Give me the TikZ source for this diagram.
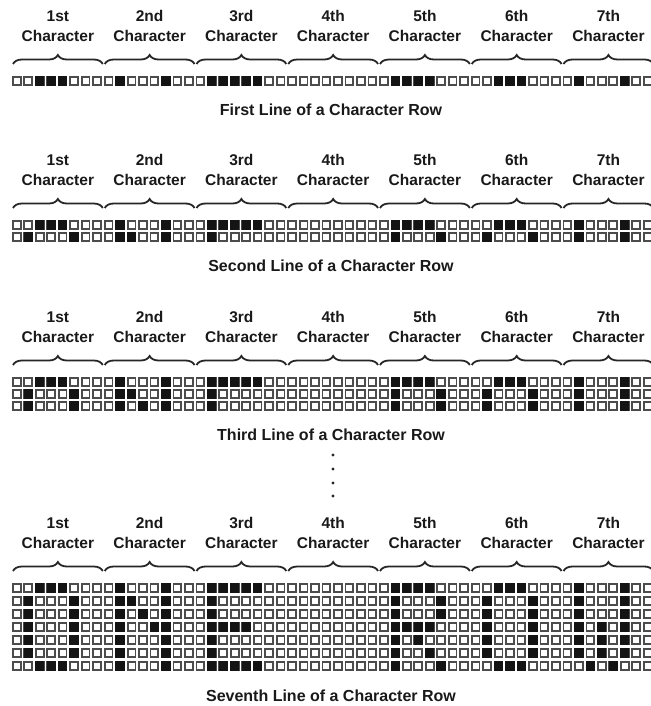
\documentclass[tikz,border=0pt]{standalone}
\usepackage{fontspec}
\setmainfont{Liberation Sans}
\usetikzlibrary{decorations.pathreplacing}
\def\rowA{3,4,5,10,14,18,19,20,21,22,34,35,36,37,43,44,45,50,54}
\def\rowB{2,6,10,11,14,18,34,38,42,46,50,54}
\def\rowC{2,6,10,12,14,18,34,38,42,46,50,54}
\def\rowD{2,6,10,13,14,18,19,20,21,34,35,36,37,42,46,50,52,54}
\def\rowE{2,6,10,14,18,34,36,42,46,50,52,54}
\def\rowF{2,6,10,14,18,34,37,42,46,50,52,54}
\def\rowG{3,4,5,10,14,18,19,20,21,22,34,38,43,44,45,51,53}
\def\pitch{11.47}
\def\cellw{91.76}
\newcommand\dmrow[2]{%
  \foreach \c in {1,...,56}{\draw[emp] ({12+(\c-1)*\pitch+0.9},{#1-3.9}) rectangle ++(7.8,7.8);}
  \foreach \c in #2 {\fill[ful] ({12+(\c-1)*\pitch+0.1},{#1-4.7}) rectangle ++(9.4,9.4);}
}
\newcommand\dmhead[2]{% #1 = block id, #2 = first row y
  \foreach \k/\t in {1/1st,2/2nd,3/3rd,4/4th,5/5th,6/6th,7/7th}{
    \node[lbl] (o#1-\k) at ({12+(\k-0.5)*\cellw},{#2-65}) {\t};
    \node[lbl] (c#1-\k) at ({12+(\k-0.5)*\cellw},{#2-45}) {Character};
    \draw[brc] ({12+(\k-1)*\cellw+1},{#2-17}) -- ({12+\k*\cellw-1},{#2-17});
  }
}
\begin{document}
\begin{tikzpicture}[x=1pt,y=-1pt,
  lbl/.style={font=\fontsize{15.5}{17}\selectfont\bfseries, inner sep=0pt, text=black!90},
  captxt/.style={font=\fontsize{16}{18}\selectfont\bfseries, inner sep=0pt, text=black!90},
  brc/.style={decorate, decoration={brace, amplitude=9pt}, line width=1.8pt, black!85},
  emp/.style={draw=black!70, line width=1.8pt, fill=white},
  ful/.style={fill=black!92}]
\useasboundingbox[fill=white] (0,0) rectangle (650,706);
% block 1
\dmhead{1}{81}
\dmrow{81}{\rowA}
\node[captxt] (cap1) at (331,110) {First Line of a Character Row};
% block 2
\dmhead{2}{225}
\dmrow{225}{\rowA}
\dmrow{237}{\rowB}
\node[captxt] (cap2) at (331,266) {Second Line of a Character Row};
% block 3
\dmhead{3}{382}
\dmrow{382}{\rowA}
\dmrow{394}{\rowB}
\dmrow{406}{\rowC}
\node[captxt] (cap3) at (331,435) {Third Line of a Character Row};
% dots
\foreach \y in {455,469,483,496}{\fill[black!85] (333,\y) circle (1.7);}
% block 4
\dmhead{4}{588}
\dmrow{588}{\rowA}
\dmrow{601}{\rowB}
\dmrow{614}{\rowC}
\dmrow{627}{\rowD}
\dmrow{640}{\rowE}
\dmrow{653}{\rowF}
\dmrow{666}{\rowG}
\node[captxt] (cap4) at (331,696) {Seventh Line of a Character Row};
\end{tikzpicture}
\end{document}
